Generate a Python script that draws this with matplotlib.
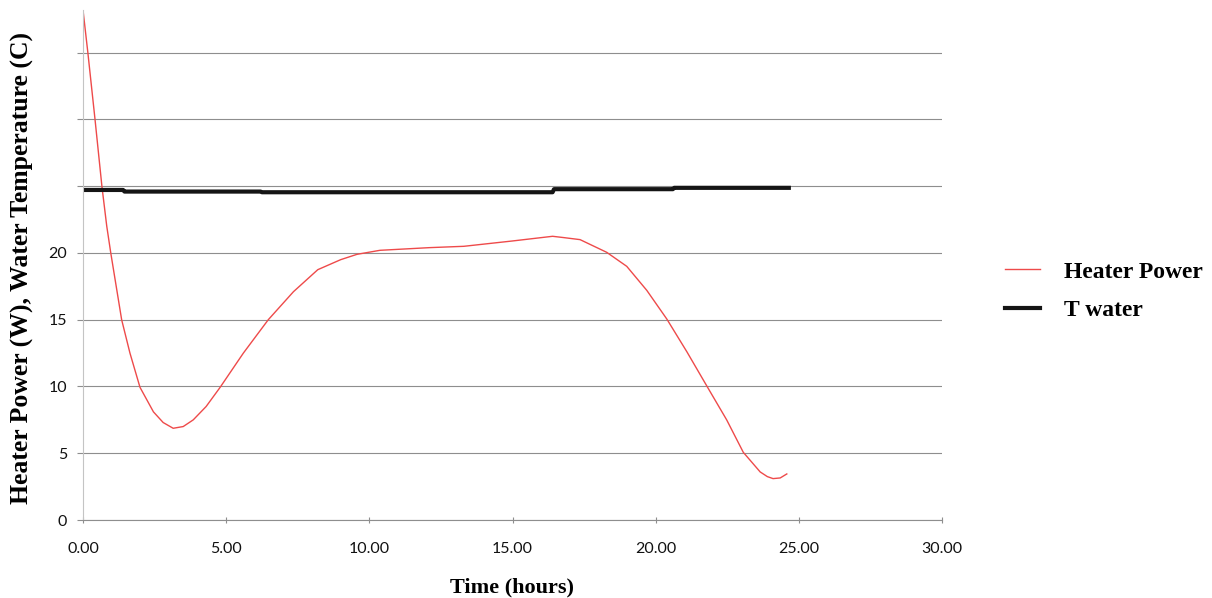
import numpy as np
import matplotlib
matplotlib.use('Agg')
import matplotlib.pyplot as plt

# heater power (red)
t_power = [0.0, 0.17, 0.42, 0.66, 0.83, 0.97, 1.35, 1.64, 1.99, 2.46, 2.8, 3.15, 3.5,
           3.85, 4.3, 4.79, 5.6, 6.47, 7.35, 8.2, 9.0, 9.57, 10.37, 12.1, 13.3, 15.0,
           16.0, 16.4, 16.8, 17.36, 18.29, 18.99, 19.69, 20.39, 21.09, 21.78, 22.48,
           23.06, 23.65, 23.9, 24.1, 24.35, 24.58]
power = [38.2, 35.0, 30.0, 25.0, 22.0, 20.0, 15.0, 12.5, 9.94, 8.1, 7.3, 6.87, 7.0,
         7.5, 8.5, 9.94, 12.5, 15.0, 17.1, 18.75, 19.5, 19.9, 20.2, 20.4, 20.5, 20.9,
         21.15, 21.25, 21.15, 21.0, 20.05, 19.0, 17.2, 15.05, 12.6, 10.06, 7.5,
         5.07, 3.6, 3.25, 3.1, 3.15, 3.45]

# water temperature (black)
t_water = [0.0, 1.4, 1.45, 6.2, 6.25, 16.4, 16.45, 20.6, 20.65, 24.65]
water = [24.72, 24.72, 24.6, 24.6, 24.55, 24.55, 24.78, 24.78, 24.88, 24.88]

xticks = [0, 5, 10, 15, 20, 25, 30]
yticks = [0, 5, 10, 15, 20, 25, 30, 35]

fig = plt.figure(figsize=(12.12, 5.98), dpi=100, facecolor='white')
ax = fig.add_axes([83/1212, 1-520/598, (942-83)/1212, (520-10)/598])

ax.plot(t_power, power, color='#EE4A4A', linewidth=1.0, label='Heater Power')
ax.plot(t_water, water, color='#151515', linewidth=3.0, label='T water')

ax.set_xlim(0, 30)
ax.set_ylim(0, 38.2)
ax.set_xticks(xticks)
ax.set_xticklabels(['%.2f' % v for v in xticks])
ax.set_yticks(yticks)
ax.set_yticklabels([str(v) if v <= 20 else '' for v in yticks])
ax.grid(axis='y', color='#8e8e8e', linewidth=0.8)
ax.set_axisbelow(True)

for s in ['top', 'right']:
    ax.spines[s].set_visible(False)
ax.spines['left'].set_color('#c4c4c4')
ax.spines['bottom'].set_color('#8e8e8e')
ax.tick_params(axis='y', length=4.3, color='#8e8e8e', pad=7)
ax.tick_params(axis='x', length=4, color='#8e8e8e', direction='inout', pad=14)
for lab in ax.get_xticklabels() + ax.get_yticklabels():
    lab.set_family('Lato')
    lab.set_fontsize(11.5)
    lab.set_color('#111111')

serif = ['Liberation Serif', 'DejaVu Serif']
ax.set_xlabel('Time (hours)', family=serif, fontweight='bold', fontsize=16, labelpad=15)
ax.set_ylabel('Heater Power (W), Water Temperature (C)', family=serif,
              fontweight='bold', fontsize=18.5)
ax.yaxis.set_label_coords(-0.057, 0.495)

leg = fig.legend(loc='center left', bbox_to_anchor=(1005/1212, 1-291/598), frameon=False,
                 prop={'family': serif, 'weight': 'bold', 'size': 17},
                 handlelength=1.5, handletextpad=1.0, labelspacing=0.72,
                 borderpad=0, borderaxespad=0)

fig.savefig('out.png', dpi=100, facecolor='white')
